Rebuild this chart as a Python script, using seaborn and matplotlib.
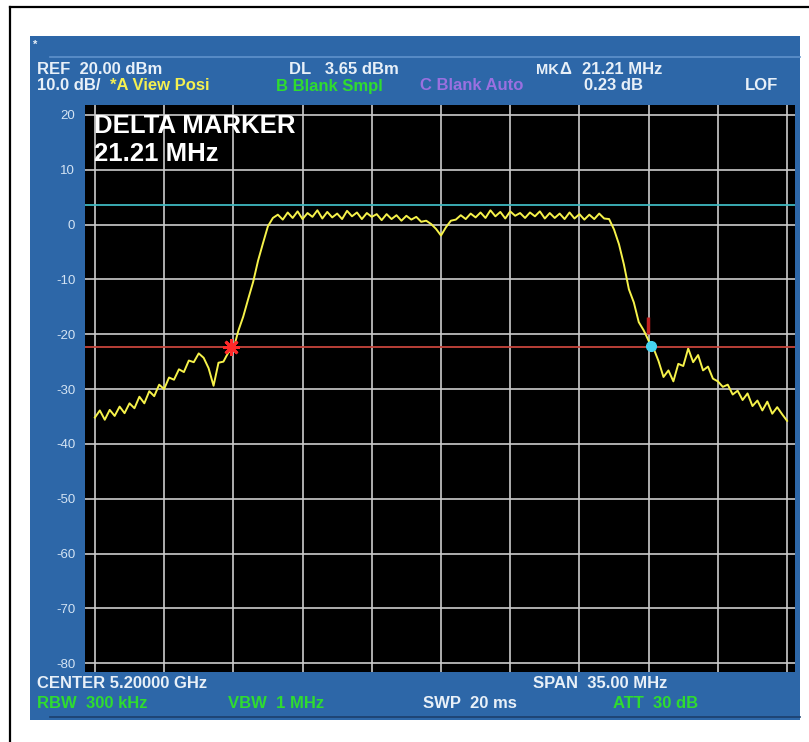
import numpy as np
import pandas as pd
import matplotlib
matplotlib.use('Agg')
import matplotlib.pyplot as plt
import seaborn as sns
from matplotlib.patches import Rectangle
from matplotlib.lines import Line2D

# %%
# trace levels in dBm, left edge to right edge of the span
rise_left = [-35.2, -33.9, -35.6, -33.8, -34.9, -33.2, -34.4, -32.6, -33.5, -31.4,
             -32.6, -30.4, -31.3, -29.2, -30.0, -27.9, -28.3, -26.4, -26.9, -24.8,
             -25.1, -23.5, -24.3, -26.2, -29.4, -25.2, -25.0, -23.3, -22.8, -19.4,
             -16.8, -13.6, -10.5, -6.6, -3.4, -0.3, 1.2]
plateau_left = [1.8, 0.9, 2.2, 1.2, 2.4, 1.0, 2.1, 1.4, 2.6, 1.1,
                2.3, 1.3, 2.0, 1.0, 2.5, 1.5, 2.2, 1.0, 2.1, 1.4,
                1.9, 0.8, 1.9, 1.0, 1.7, 0.7, 1.6, 0.9, 1.4, 0.5, 0.7]
center_dip = [0.1, -0.8, -2.0, -0.5, 0.7]
plateau_right = [0.9, 1.7, 1.0, 2.0, 1.3, 2.2, 1.2, 2.6, 1.5, 2.3,
                 1.1, 2.4, 1.6, 2.1, 1.2, 2.2, 1.5, 2.4, 1.1, 2.1,
                 1.2, 2.0, 1.0, 2.2, 1.1, 1.9, 0.9, 1.8, 1.0, 2.0, 1.1, 1.0]
fall_right = [-0.9, -3.6, -7.3, -11.8, -14.2, -17.8, -19.3, -21.2, -22.6, -24.9,
              -27.8, -26.6, -28.6, -25.4, -25.8, -22.6, -25.1, -23.8, -26.6, -25.9,
              -28.1, -28.6, -29.6, -29.2, -31.0, -30.3, -32.0, -30.8, -33.1, -32.1,
              -33.9, -32.3, -34.5, -33.3, -34.6, -35.8]

level = rise_left + plateau_left + center_dip + plateau_right + fall_right
# offset from centre 5.20000 GHz, MHz (span 35 MHz)
freq = np.linspace(-17.5, 17.5, len(level))
df = pd.DataFrame({'freq': freq, 'level': level})

display_line = 3.65
marker_line = -22.4
mk_freq = [-10.6, 10.61]
mk_level = [-22.4, -22.2]

ytick_vals = [20, 10, 0, -10, -20, -30, -40, -50, -60, -70, -80]
ytick_labels = ['20', '10', '0', '-10', '-20', '-30', '-40', '-50', '-60', '-70', '-80']

# %%
plt.rcParams['font.family'] = ['Liberation Sans', 'DejaVu Sans']

W, H = 809, 742
fig = plt.figure(figsize=(W / 100, H / 100), dpi=100)
fig.patch.set_facecolor('white')


def px(x, y):
    return x / W, 1 - y / H


# outer frame and the blue analyzer panel
fig.add_artist(Line2D([10 / W, 1], [1 - 7 / H] * 2, color='black', lw=1.6))
fig.add_artist(Line2D([10 / W] * 2, [0, 1 - 7 / H], color='black', lw=1.6))
fig.add_artist(Rectangle(px(30, 720), 770 / W, 684 / H, facecolor='#2d67a8',
                         edgecolor='none', zorder=-5))
fig.add_artist(Line2D([50 / W, 800 / W], [1 - 57 / H] * 2, color='#5f92cc', lw=1.2))
fig.add_artist(Line2D([50 / W, 800 / W], [1 - 717 / H] * 2, color='#1b3f6c', lw=1.2))

ax = fig.add_axes([85 / W, 1 - 672 / H, 710 / W, 567 / H])
ax.set_zorder(5)
ax.set_facecolor('black')

sns.lineplot(data=df, x='freq', y='level', ax=ax, color='#f6f24a', lw=1.4,
             estimator=None)

ax.axhline(display_line, color='#3fb8c0', lw=1.3)
ax.axhline(marker_line, color='#c8453c', lw=1.3)
ax.plot([10.47, 10.47], [-16.9, -20.0], color='#c02020', lw=2.5, solid_capstyle='butt')
ax.plot(mk_freq[0], mk_level[0], marker=(8, 2, 0), ms=12, mew=2, color='#ff2a2a')
ax.plot(mk_freq[1], mk_level[1], marker='o', ms=7, color='#45d4f2', mec='#45d4f2')

ax.set_xlim(-18.0, 17.9)
ax.set_ylim(-81.6, 21.8)
ax.set_xticks([-17.5 + 3.5 * k for k in range(11)])
ax.set_xticklabels([])
ax.set_yticks(ytick_vals)
ax.set_yticklabels(ytick_labels)
ax.tick_params(length=0, labelsize=9.5, labelcolor='#d4e4f4', pad=7)
ax.grid(True, color='#cbcbcb', lw=1.2)
ax.set_axisbelow(True)
ax.set_xlabel('')
ax.set_ylabel('')
for s in ax.spines.values():
    s.set_visible(False)

ax.text(0.012, 0.985, 'DELTA MARKER', transform=ax.transAxes,
        color='white', fontsize=18.5, fontweight='bold', va='top', ha='left')
ax.text(0.012, 0.935, '21.21 MHz', transform=ax.transAxes,
        color='white', fontsize=18.5, fontweight='bold', va='top', ha='left')

# header and footer readouts
white = '#e8f0f8'
green = '#2fdc2f'
labels = [
    (33, 45, '*', white, 8),
    (37, 69, 'REF  20.00 dBm', white, 12),
    (289, 69, 'DL   3.65 dBm', white, 12),
    (536, 70, 'MK', white, 10.5),
    (559, 69, '\u0394', white, 12),
    (582, 69, '21.21 MHz', white, 12),
    (37, 86, '10.0 dB/', white, 12),
    (110, 86, '*A View Posi', '#f4f050', 12),
    (276, 86, 'B Blank Smpl', green, 12),
    (420, 86, 'C Blank Auto', '#9a70e0', 12),
    (584, 86, '0.23 dB', white, 12),
    (745, 86, 'LOF', white, 12),
    (37, 684, 'CENTER 5.20000 GHz', white, 12),
    (533, 684, 'SPAN  35.00 MHz', white, 12),
    (37, 703, 'RBW  300 kHz', green, 12),
    (228, 703, 'VBW  1 MHz', green, 12),
    (423, 703, 'SWP  20 ms', white, 12),
    (613, 703, 'ATT  30 dB', green, 12),
]
for x, y, s, c, fs in labels:
    fig.text(*px(x, y), s, color=c, fontsize=fs, fontweight='bold',
             ha='left', va='center')

fig.savefig('out.png', dpi=100, facecolor='white')
